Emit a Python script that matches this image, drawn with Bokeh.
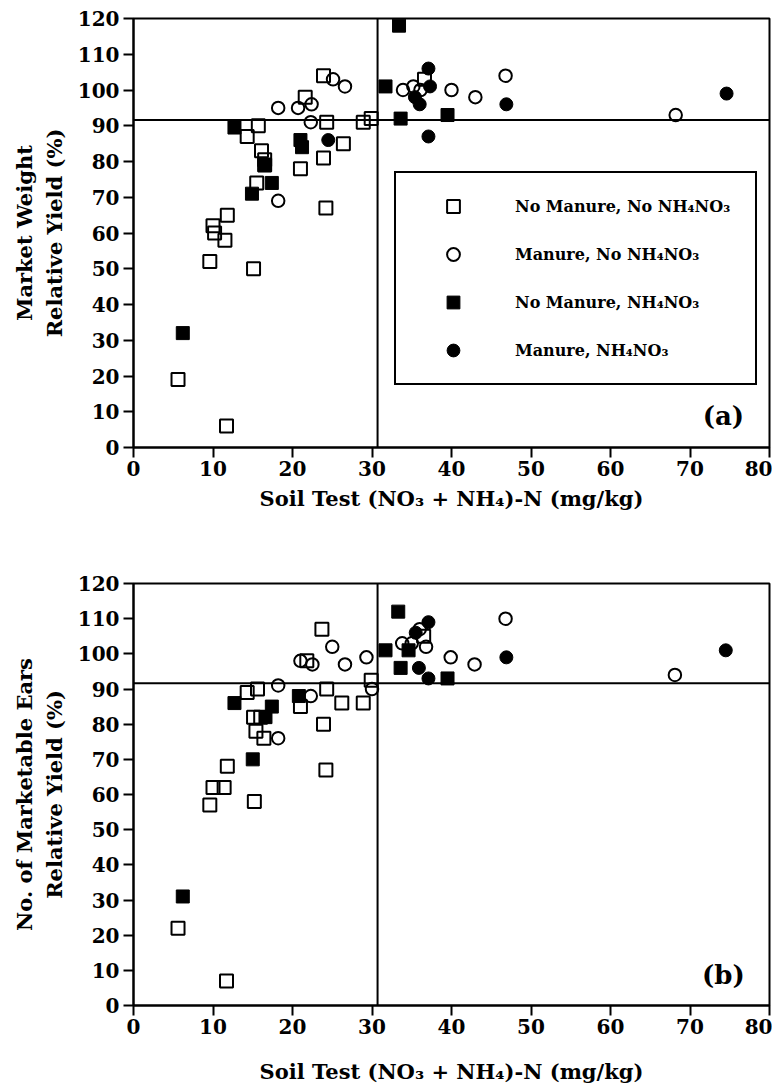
from bokeh.plotting import figure
from bokeh.models import Span, Label, Legend, LegendItem, FixedTicker, Range1d
from bokeh.layouts import column
from bokeh.embed import file_html
from bokeh.resources import INLINE

FONT = "DejaVu Serif"

# ---------------- data ----------------
x_ticks = [0, 10, 20, 30, 40, 50, 60, 70, 80]
y_ticks = [0, 10, 20, 30, 40, 50, 60, 70, 80, 90, 100, 110, 120]

critical_soil_n = 30.7      # mg/kg (vertical line)
critical_yield = 91.6       # % (horizontal line)

legend_labels = [
    "No Manure, No NH\u2084NO\u2083",
    "Manure, No NH\u2084NO\u2083",
    "No Manure, NH\u2084NO\u2083",
    "Manure, NH\u2084NO\u2083",
]

# Panel (a): market weight relative yield
a_nomanure_non_x = [5.6, 9.6, 10.0, 10.2, 11.5, 11.7, 11.8, 14.3, 15.1, 15.5, 15.7, 16.1,
                    16.5, 16.5, 21.0, 21.6, 23.9, 23.9, 24.2, 24.3, 26.4, 28.9, 29.9, 36.6]
a_nomanure_non_y = [19, 52, 62, 60, 58, 6, 65, 87, 50, 74, 90, 83,
                    80.5, 79, 78, 98, 104, 81, 67, 91, 85, 91, 92, 103]
a_manure_non_x = [18.2, 18.2, 20.7, 22.3, 22.4, 25.1, 26.6, 33.9, 35.2, 36.1, 40.0, 43.0, 46.8, 68.2]
a_manure_non_y = [69, 95, 95, 91, 96, 103, 101, 100, 101, 100, 100, 98, 104, 93]
a_nomanure_n_x = [6.2, 12.7, 14.9, 16.5, 17.4, 21.0, 21.2, 31.7, 33.4, 33.6, 39.5]
a_nomanure_n_y = [32, 89.5, 71, 79, 74, 86, 84, 101, 118, 92, 93]
a_manure_n_x = [24.5, 35.4, 36.0, 37.1, 37.1, 37.3, 46.9, 74.6]
a_manure_n_y = [86, 98, 96, 106, 87, 101, 96, 99]

# Panel (b): number of marketable ears relative yield
b_nomanure_non_x = [5.6, 9.6, 10.0, 11.4, 11.7, 11.8, 14.3, 15.1, 15.2, 15.4, 15.6, 16.0,
                    16.4, 21.0, 21.8, 23.7, 23.9, 24.2, 24.3, 26.2, 28.9, 29.9, 36.5]
b_nomanure_non_y = [22, 57, 62, 62, 7, 68, 89, 82, 58, 78, 90, 82,
                    76, 85, 98, 107, 80, 67, 90, 86, 86, 92.5, 105]
b_manure_non_x = [18.2, 18.2, 21.0, 22.3, 22.5, 25.0, 26.6, 29.3, 30.0, 33.8, 35.0, 36.0,
                  36.8, 39.9, 42.9, 46.8, 68.1]
b_manure_non_y = [76, 91, 98, 88, 97, 102, 97, 99, 90, 103, 103, 107,
                  102, 99, 97, 110, 94]
b_nomanure_n_x = [6.2, 12.7, 15.0, 16.6, 17.4, 20.8, 31.7, 33.3, 33.6, 34.6, 39.5]
b_nomanure_n_y = [31, 86, 70, 82, 85, 88, 101, 112, 96, 101, 93]
b_manure_n_x = [35.5, 35.9, 37.1, 37.1, 46.9, 74.5]
b_manure_n_y = [106, 96, 109, 93, 99, 101]

x_title = "Soil Test (NO\u2083 + NH\u2084)-N (mg/kg)"
a_y_title = "Market Weight\nRelative Yield (%)"
b_y_title = "No. of Marketable Ears\nRelative Yield (%)"


def make_fig(frame_h, top, bottom, y_title, panel, series, label_standoff):
    p = figure(frame_width=636, frame_height=frame_h,
               x_range=Range1d(0, 80), y_range=Range1d(0, 120),
               output_backend="svg", toolbar_location=None,
               min_border_left=133, min_border_right=3,
               min_border_top=top, min_border_bottom=bottom,
               background_fill_color="white", border_fill_color="white")
    p.xgrid.visible = False
    p.ygrid.visible = False
    p.outline_line_color = "black"
    p.outline_line_width = 2
    p.outline_line_alpha = 1

    p.xaxis.ticker = FixedTicker(ticks=x_ticks)
    p.yaxis.ticker = FixedTicker(ticks=y_ticks)
    for ax in (p.xaxis[0], p.yaxis[0]):
        ax.axis_line_width = 2
        ax.axis_line_color = "black"
        ax.major_tick_line_width = 2
        ax.major_tick_line_color = "black"
        ax.major_tick_out = 10
        ax.major_tick_in = 0
        ax.minor_tick_line_color = None
        ax.major_label_text_font = FONT
        ax.major_label_text_font_style = "bold"
        ax.major_label_text_font_size = "20px"
        ax.major_label_text_color = "black"
        ax.axis_label_text_font = FONT
        ax.axis_label_text_font_style = "bold"
        ax.axis_label_text_font_size = "21px"
        ax.axis_label_text_color = "black"
    p.xaxis.major_label_standoff = 3
    p.yaxis.major_label_standoff = 4
    p.xaxis.axis_label = x_title
    p.xaxis.axis_label_standoff = label_standoff
    p.yaxis.axis_label = y_title
    p.yaxis.axis_label_standoff = 8

    (sq_x, sq_y), (ci_x, ci_y), (fsq_x, fsq_y), (fci_x, fci_y) = series
    r_fsq = p.scatter(fsq_x, fsq_y, marker="square", size=13, fill_color="black",
                      line_color="black", line_width=1)
    r_fci = p.scatter(fci_x, fci_y, marker="circle", size=13, fill_color="black",
                      line_color="black", line_width=1)
    r_sq = p.scatter(sq_x, sq_y, marker="square", size=13, fill_alpha=0,
                     line_color="black", line_width=2)
    r_ci = p.scatter(ci_x, ci_y, marker="circle", size=12.5, fill_alpha=0,
                     line_color="black", line_width=2)

    p.add_layout(Span(location=critical_soil_n, dimension="height",
                      line_color="black", line_width=2))
    p.add_layout(Span(location=critical_yield, dimension="width",
                      line_color="black", line_width=2))

    p.add_layout(Label(x=74.2, y=8.7, text=panel, text_font=FONT,
                       text_font_style="bold", text_font_size="26px",
                       text_align="center", text_baseline="middle",
                       text_color="black"))
    return p, [r_sq, r_ci, r_fsq, r_fci]


p1, rends = make_fig(429, 18, 80, a_y_title, "(a)",
                     [(a_nomanure_non_x, a_nomanure_non_y),
                      (a_manure_non_x, a_manure_non_y),
                      (a_nomanure_n_x, a_nomanure_n_y),
                      (a_manure_n_x, a_manure_n_y)], 7)

legend = Legend(items=[LegendItem(label=lab, renderers=[r]) for lab, r in zip(legend_labels, rends)],
                location=(261, 62), orientation="vertical", padding=17, spacing=16,
                glyph_width=80, glyph_height=32, label_standoff=22, label_width=223,
                label_height=32, border_line_color="black", border_line_width=2,
                border_line_alpha=1, background_fill_color="white", background_fill_alpha=1,
                label_text_font=FONT, label_text_font_style="bold",
                label_text_font_size="16px", label_text_color="black", margin=0)
p1.add_layout(legend)

p2, _ = make_fig(422, 56, 72, b_y_title, "(b)",
                 [(b_nomanure_non_x, b_nomanure_non_y),
                  (b_manure_non_x, b_manure_non_y),
                  (b_nomanure_n_x, b_nomanure_n_y),
                  (b_manure_n_x, b_manure_n_y)], 22)

layout = column(p1, p2, spacing=0)
open("out.html", "w").write(file_html(layout, INLINE))
